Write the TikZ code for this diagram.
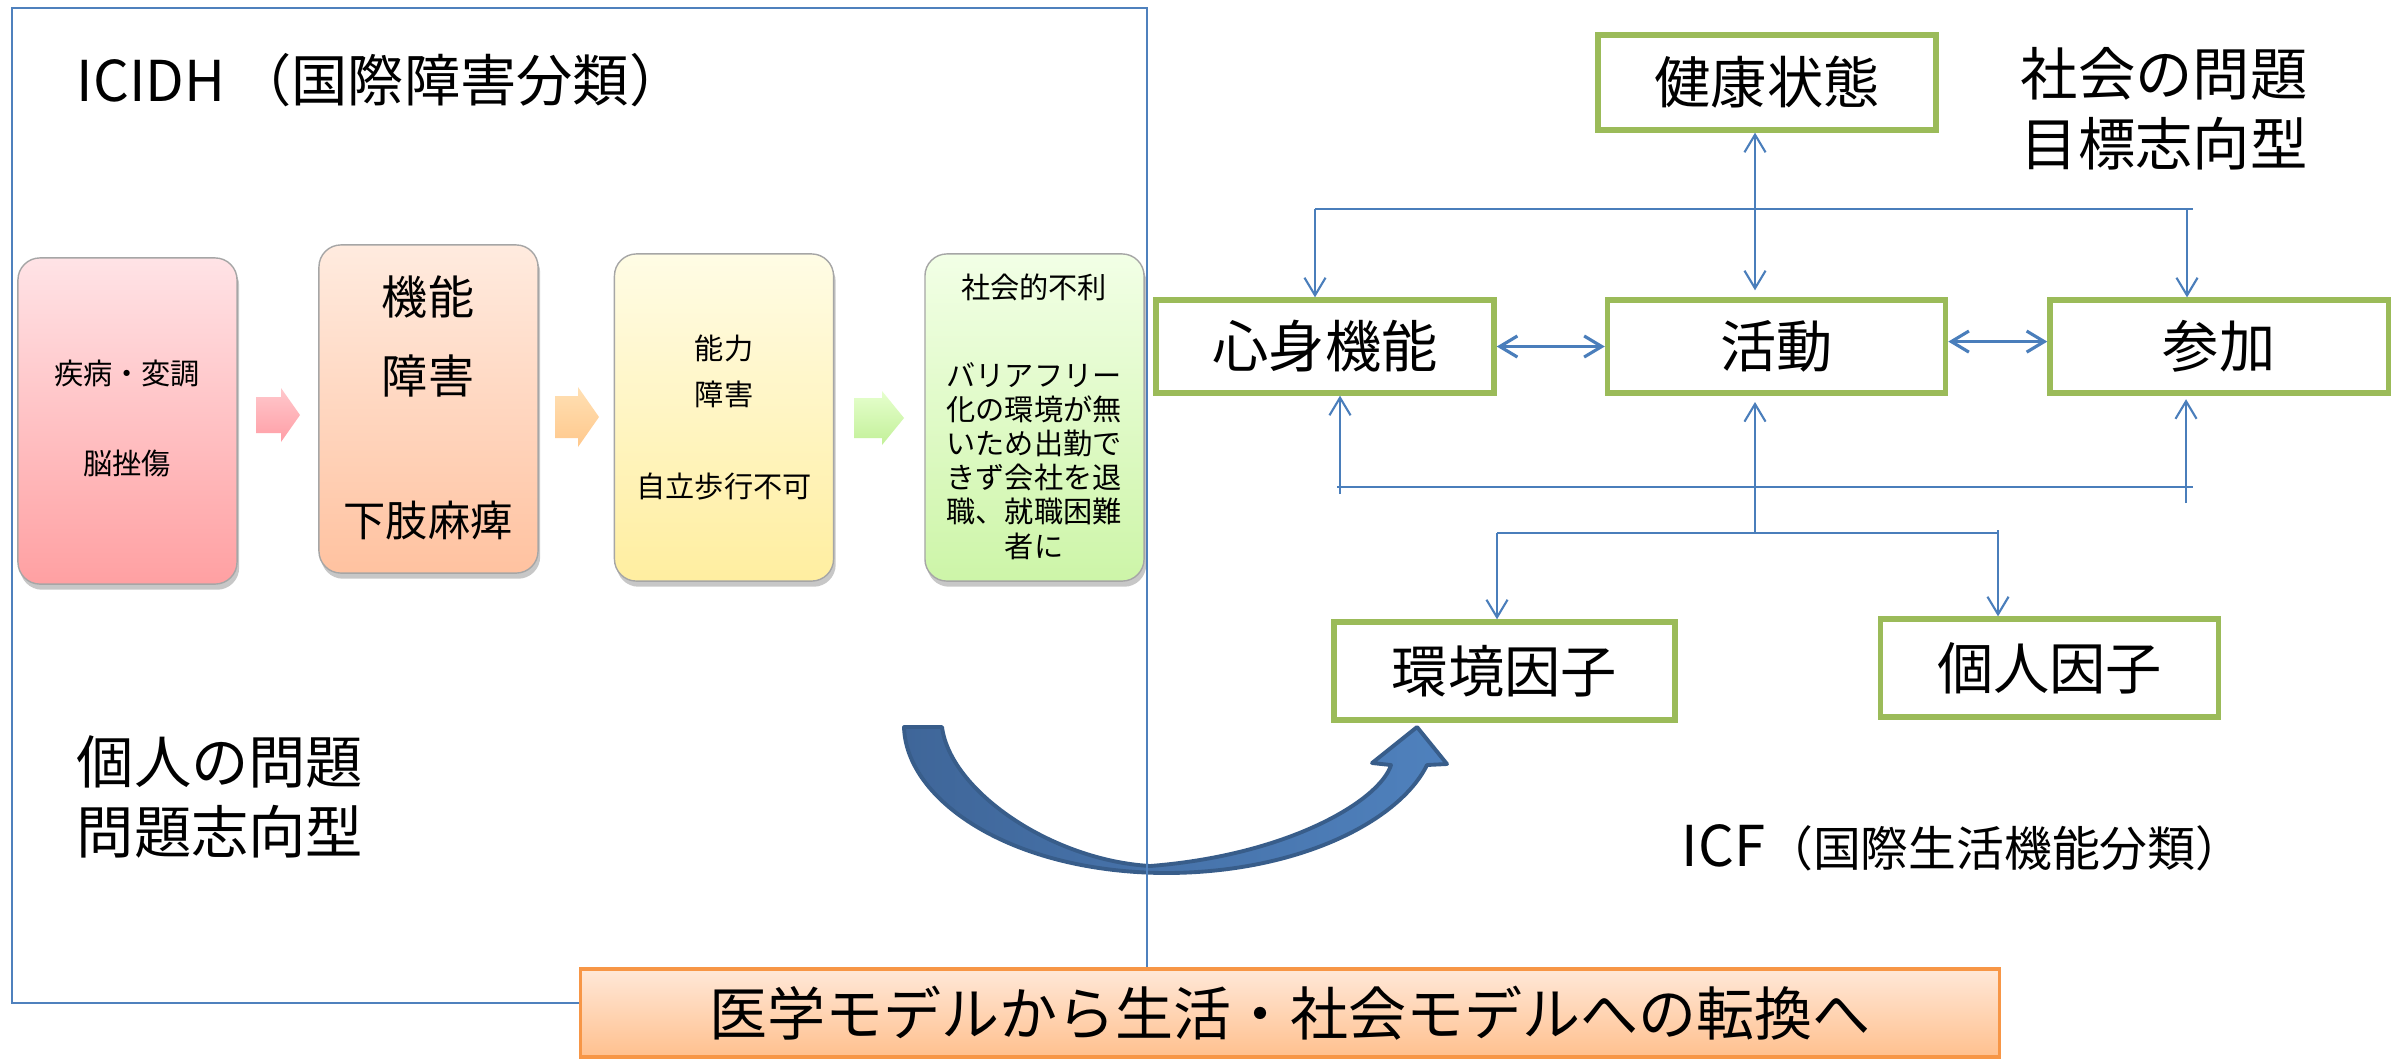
\documentclass[tikz,border=0pt]{standalone}
\usepackage{fontspec}
\setmainfont{Noto Sans CJK JP}
\usetikzlibrary{arrows.meta,shadows}
\definecolor{icfgreen}{HTML}{9BBB59}
\definecolor{connblue}{HTML}{4A7EBB}
\definecolor{framblue}{HTML}{4F81BD}
\definecolor{bigdark}{HTML}{3F6699}
\definecolor{biglight}{HTML}{4F81BD}
\definecolor{bigedge}{HTML}{385D8A}
\definecolor{bannerTop}{HTML}{FFE8D8}
\definecolor{bannerBot}{HTML}{FFC08E}
\definecolor{bannerEdge}{HTML}{F79646}
\definecolor{pinkT}{HTML}{FFE3E6}
\definecolor{pinkB}{HTML}{FFA0A2}
\definecolor{salT}{HTML}{FFEBDF}
\definecolor{salB}{HTML}{FFC2A0}
\definecolor{yelT}{HTML}{FFFCE5}
\definecolor{yelB}{HTML}{FFEEA0}
\definecolor{grnT}{HTML}{F2FFE6}
\definecolor{grnB}{HTML}{CDF5A8}
\definecolor{a1T}{HTML}{FFC8CC}
\definecolor{a1B}{HTML}{FF9EA6}
\definecolor{a2T}{HTML}{FFE0B4}
\definecolor{a2B}{HTML}{FFC88C}
\definecolor{a3T}{HTML}{E6FFCE}
\definecolor{a3B}{HTML}{C2F098}
\begin{document}
\begin{tikzpicture}[x=0.01cm,y=-0.01cm,
  icfbox/.style={draw=icfgreen, line width=1.5pt, fill=white, minimum width=3.38cm, minimum height=0.95cm, inner sep=0pt, font=\fontsize{16pt}{19pt}\selectfont},
  conn/.style={draw=connblue, line width=0.6pt},
  arr/.style={-{Straight Barb[length=5pt,width=6pt]}},
  darr/.style={{Straight Barb[length=5pt,width=6pt]}-{Straight Barb[length=5pt,width=6pt]}},
  stagebox/.style={rounded corners=0.22cm, draw=black!35, line width=0.4pt, minimum width=2.19cm, minimum height=3.27cm, inner sep=0pt,
    drop shadow={shadow xshift=0.6pt, shadow yshift=-1.6pt, fill=black, opacity=0.22}},
  smalltxt/.style={inner sep=0pt, font=\fontsize{8.3pt}{9.7pt}\selectfont, align=center},
  bigtxt/.style={inner sep=0pt, font=\fontsize{16.3pt}{19.9pt}\selectfont, align=left}
]
\useasboundingbox (0,0) rectangle (2398,1060);
\fill[white] (0,0) rectangle (2398,1060);

% big curved arrow
\path[left color=bigdark, right color=biglight, draw=bigedge, line width=1.1pt, line join=round]
  (904,727) .. controls (906,800) and (1010,872) .. (1165,873)
  .. controls (1300,873) and (1400,820) .. (1427,765)
  -- (1447,764) -- (1417,727) -- (1372,763) -- (1391,765)
  .. controls (1380,800) and (1290,855) .. (1150,866)
  .. controls (1050,860) and (950,790) .. (942,727) -- cycle;

% ICIDH frame
\draw[framblue, line width=0.8pt] (12,8) rectangle (1147,1003);

\node[anchor=west, inner sep=0pt, font=\fontsize{16pt}{18pt}\selectfont] (icidh) at (76,80) {ICIDH\hspace{0.1cm}（国際障害分類）};

% stage boxes
\node[stagebox, top color=pinkT, bottom color=pinkB, minimum height=3.26cm] (b1) at (127.5,421) {};
\node[stagebox, top color=salT, bottom color=salB, minimum height=3.28cm] (b2) at (428.5,409) {};
\node[stagebox, top color=yelT, bottom color=yelB] (b3) at (724,417.5) {};
\node[stagebox, top color=grnT, bottom color=grnB] (b4) at (1034.5,417.5) {};

% small block arrows
\path[top color=a1T, bottom color=a1B]
  (256,397) -- (281,397) -- (281,388) -- (300,415) -- (281,442) -- (281,433) -- (256,433) -- cycle;
\path[top color=a2T, bottom color=a2B]
  (555,396) -- (578,396) -- (578,387) -- (599,417) -- (578,447) -- (578,438) -- (555,438) -- cycle;
\path[top color=a3T, bottom color=a3B]
  (854,398) -- (882,398) -- (882,391) -- (904,418) -- (882,445) -- (882,438) -- (854,438) -- cycle;

% stage texts
\node[smalltxt] (t11) at (127,373) {疾病・変調};
\node[smalltxt] (t12) at (127,463) {脳挫傷};
\node[inner sep=0pt, font=\fontsize{13.1pt}{15pt}\selectfont] (t21) at (428,297) {機能};
\node[inner sep=0pt, font=\fontsize{13.1pt}{15pt}\selectfont] (t22) at (428,376) {障害};
\node[inner sep=0pt, font=\fontsize{12pt}{14pt}\selectfont] (t23) at (428,520) {下肢麻痺};
\node[smalltxt] (t31) at (724,348) {能力};
\node[smalltxt] (t32) at (724,394) {障害};
\node[smalltxt] (t33) at (724,486) {自立歩行不可};
\node[smalltxt] (t41) at (1034,287) {社会的不利};
\node[smalltxt] (t42) at (1034,461) {バリアフリー\\化の環境が無\\いため出勤で\\きず会社を退\\職、就職困難\\者に};

\node[bigtxt, anchor=west] (kojinmondai) at (76,797) {個人の問題\\問題志向型};

% ICF side
\node[icfbox] (kenko) at (1767,82.5) {健康状態};
\node[icfbox, minimum height=0.93cm] (shinshin) at (1325,346.5) {心身機能};
\node[icfbox, minimum height=0.93cm] (katsudo) at (1776.5,346.5) {活動};
\node[icfbox, minimum height=0.93cm] (sanka) at (2219,346.5) {参加};
\node[icfbox, minimum width=3.41cm, minimum height=0.98cm] (kankyo) at (1504.5,671) {環境因子};
\node[icfbox, minimum height=0.98cm] (kojin) at (2049.5,668) {個人因子};

\node[bigtxt, anchor=west] (shakai) at (2020,109) {社会の問題\\目標志向型};
\node[anchor=base west, inner sep=0pt, font=\fontsize{13.6pt}{16pt}\selectfont] (icf) at (1681,866) {{\fontsize{16pt}{19pt}\selectfont ICF}（国際生活機能分類）};

% connectors
\coordinate (busTL) at (1315,209);
\coordinate (busTR) at (2193,209);
\coordinate (dropR) at (2187,209);
\coordinate (trunk) at (1755,209);
\draw[conn] (busTL) -- (busTR);
\draw[conn,arr] (busTL) -- (busTL |- shinshin.north);
\draw[conn,arr] (dropR) -- (dropR |- sanka.north);
\draw[conn,darr, shorten >=2pt] (trunk |- kenko.south) -- (trunk |- katsudo.north);

\draw[conn,darr, line width=0.9pt] (shinshin.east) -- (katsudo.west);
\draw[conn,darr, line width=0.9pt] ([yshift=1.4pt]katsudo.east) -- ([yshift=1.4pt]sanka.west);

\coordinate (busBL) at (1337,487);
\coordinate (busBR) at (2193,487);
\draw[conn] (busBL) -- (busBR);
\coordinate (upL) at (1340,494);
\draw[conn,arr] (upL) -- (upL |- shinshin.south);
\coordinate (upM) at (1755,533);
\draw[conn,arr, shorten >=1.8pt] (upM) -- (upM |- katsudo.south);
\coordinate (upR) at (2186,503);
\draw[conn,arr, shorten >=1pt] (upR) -- (upR |- sanka.south);

\coordinate (busLL) at (1497,533);
\coordinate (busLR) at (1998,533);
\draw[conn] (busLL) -- (busLR);
\draw[conn,arr] (busLL) -- (busLL |- kankyo.north);
\coordinate (dropK) at (1998,530);
\draw[conn,arr] (dropK) -- (dropK |- kojin.north);

% bottom banner
\node[draw=bannerEdge, line width=0.9pt, top color=bannerTop, bottom color=bannerBot, minimum width=14.18cm, minimum height=0.88cm, inner sep=0pt, font=\fontsize{16.5pt}{19pt}\selectfont] (banner) at (1290,1013) {医学モデルから生活・社会モデルへの転換へ};
\end{tikzpicture}
\end{document}
